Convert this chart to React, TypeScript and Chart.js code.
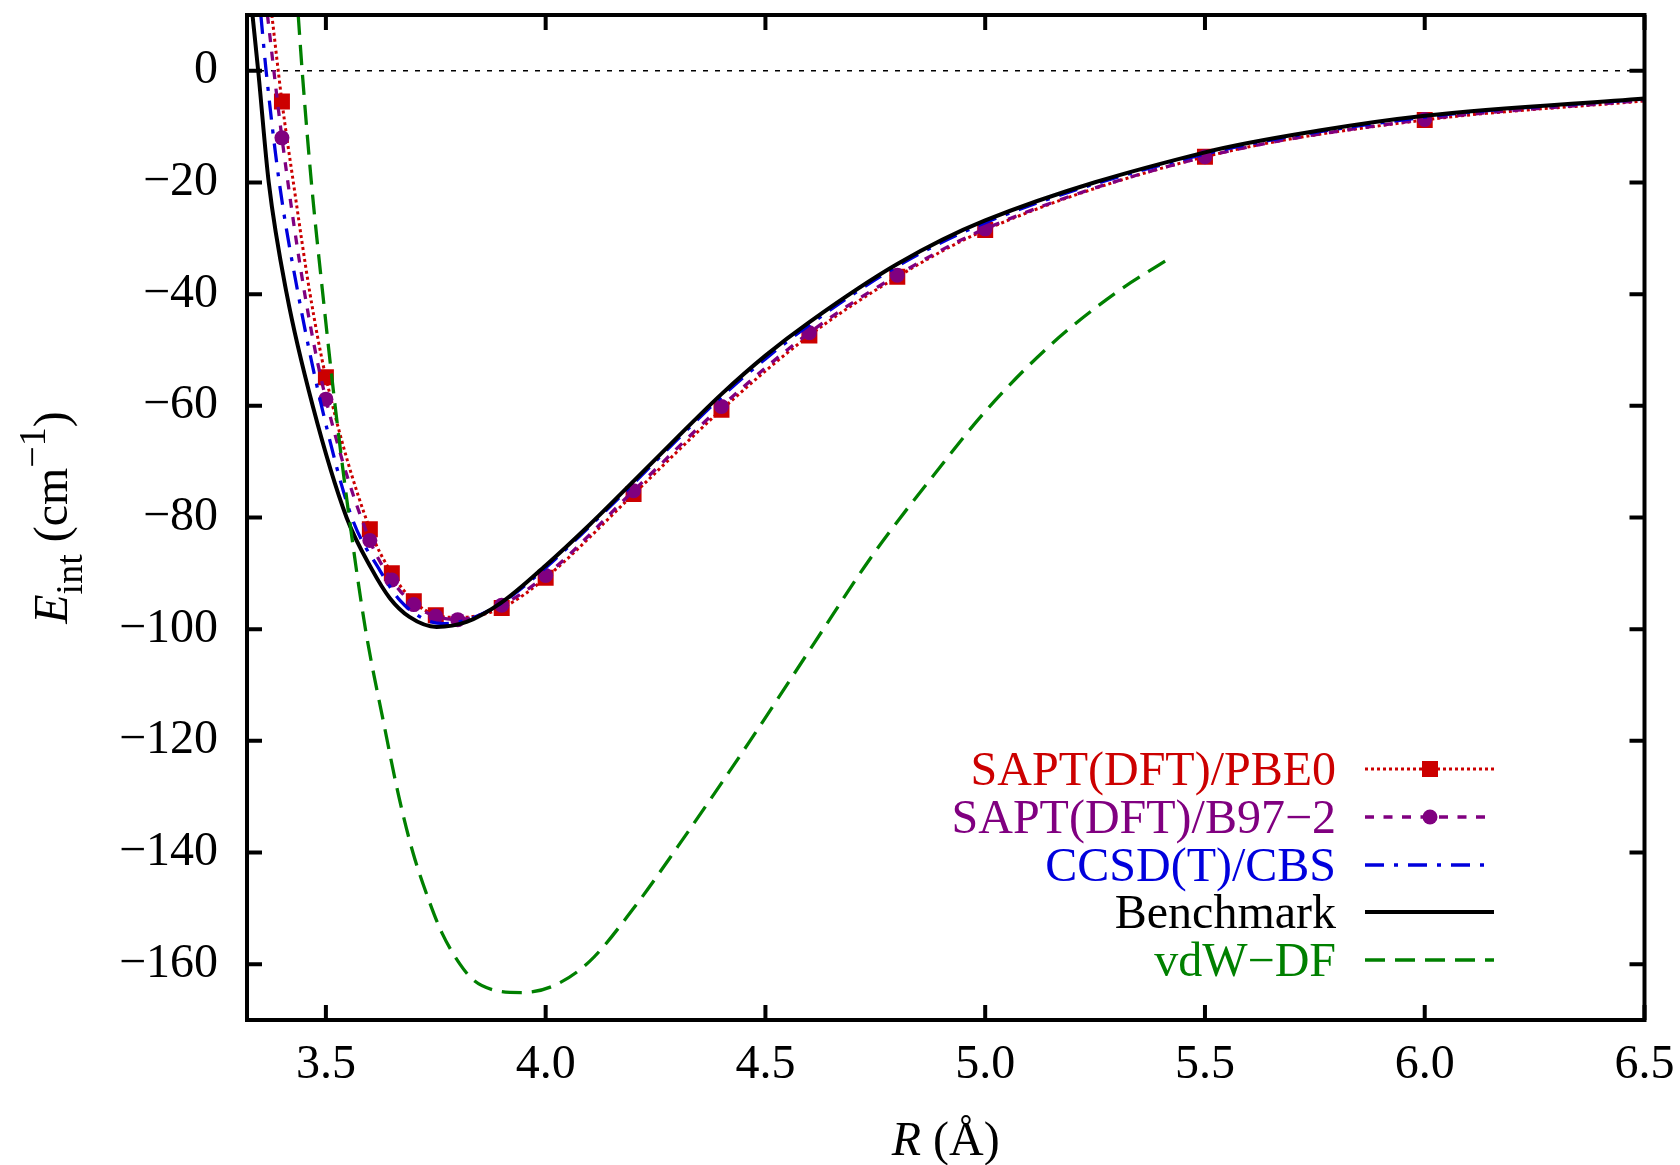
import React, { useEffect, useRef } from 'react';
import { Chart, registerables } from 'chart.js';

Chart.register(...registerables);

// ---------- data ----------
const xTicks = [3.5, 4.0, 4.5, 5.0, 5.5, 6.0, 6.5];
const yTicks = [0, -20, -40, -60, -80, -100, -120, -140, -160];
const xRange = [3.3205, 6.5];
const yRange = [-170, 10];

const seriesNames = ['SAPT(DFT)/PBE0', 'SAPT(DFT)/B97\u22122', 'CCSD(T)/CBS', 'Benchmark', 'vdW\u2212DF'];

// SAPT(DFT)/PBE0 computed points (red squares)
const pbe0R = [3.4, 3.5, 3.6, 3.65, 3.7, 3.75, 3.9, 4.0, 4.2, 4.4, 4.6, 4.8, 5.0, 5.5, 6.0];
const pbe0E = [-5.5, -54.9, -82.1, -90.0, -95.0, -97.5, -96.2, -90.8, -75.8, -60.7, -47.4, -36.9, -28.5, -15.4, -8.8];
// SAPT(DFT)/PBE0 fitted curve
const pbe0CurveR = [3.377, 3.4, 3.426, 3.464, 3.5, 3.6, 3.65, 3.7, 3.75, 3.8, 3.9, 4.0, 4.2, 4.4, 4.6, 4.8, 5.0, 5.5, 6.0, 6.5];
const pbe0CurveE = [10, -5.5, -20, -40, -54.9, -82.1, -90.0, -95.0, -97.5, -97.9, -96.2, -90.8, -75.8, -60.7, -47.4, -36.9, -28.5, -15.4, -8.8, -5.4];

// SAPT(DFT)/B97-2 computed points (purple circles)
const b97R = [3.4, 3.5, 3.6, 3.65, 3.7, 3.75, 3.8, 3.9, 4.0, 4.2, 4.4, 4.6, 4.8, 5.0, 5.5, 6.0];
const b97E = [-12.0, -58.8, -84.1, -91.2, -95.6, -97.7, -98.3, -95.7, -90.4, -75.2, -60.1, -46.9, -36.6, -28.3, -15.4, -8.7];
// SAPT(DFT)/B97-2 fitted curve
const b97CurveR = [3.367, 3.4, 3.452, 3.5, 3.6, 3.65, 3.7, 3.75, 3.8, 3.9, 4.0, 4.2, 4.4, 4.6, 4.8, 5.0, 5.5, 6.0, 6.5];
const b97CurveE = [10, -12.0, -40, -58.8, -84.1, -91.2, -95.6, -97.7, -98.3, -95.7, -90.4, -75.2, -60.1, -46.9, -36.6, -28.3, -15.4, -8.7, -5.3];

// CCSD(T)/CBS curve
const ccsdR = [3.352, 3.364, 3.394, 3.437, 3.49, 3.559, 3.623, 3.669, 3.729, 3.77, 3.83, 3.9, 4.0, 4.1, 4.2, 4.3, 4.4, 4.5, 4.6, 4.8, 5.0, 5.5, 6.0, 6.5];
const ccsdE = [10, 0, -20, -40, -60, -80, -89.5, -94.9, -98.4, -99.0, -98.1, -95.3, -89.0, -81.6, -73.9, -66.0, -58.4, -51.6, -45.5, -35.0, -27.2, -14.9, -8.3, -5.05];

// Benchmark curve
const benchR = [3.333, 3.346, 3.37, 3.411, 3.47, 3.547, 3.604, 3.646, 3.69, 3.752, 3.82, 3.9, 4.0, 4.1, 4.2, 4.3, 4.4, 4.5, 4.6, 4.8, 5.0, 5.5, 5.76, 6.0, 6.5];
const benchE = [10, 0, -20, -40, -60, -80, -89.2, -94.5, -97.8, -99.6, -98.7, -95.2, -88.6, -81.3, -73.5, -65.6, -57.9, -51.0, -45.0, -34.6, -26.8, -14.6, -10.7, -8.05, -4.95];

// vdW-DF curve
const vdwR = [3.437, 3.446, 3.467, 3.493, 3.521, 3.553, 3.59, 3.632, 3.666, 3.698, 3.734, 3.764, 3.805, 3.835, 3.88, 3.945, 4.02, 4.1, 4.2, 4.3, 4.465, 4.611, 4.746, 4.897, 5.0, 5.15, 5.3, 5.413];
const vdwE = [10, 0, -20, -40, -60, -80, -100, -117, -130, -140, -148.5, -154.4, -160, -162.8, -164.6, -165.1, -163.8, -159.5, -150, -139, -120, -102.5, -86.5, -71, -61, -49, -39.6, -33.9];

// ---------- styles ----------
const FONT = "'Liberation Serif', 'Times New Roman', serif";
const RED = '#cc0000';
const PURPLE = '#800080';
const BLUE = '#0000dd';
const BLACK = '#000000';
const GREEN = '#008000';

const zip = (xs: number[], ys: number[]) => xs.map((x, i) => ({ x, y: ys[i] }));

const legendStyles = [
  { color: RED, dash: [3, 3], width: 3, marker: 'rect' },
  { color: PURPLE, dash: [9, 9.5], width: 3.3, marker: 'circle' },
  { color: BLUE, dash: [19, 10, 4, 10], width: 3.3, marker: null },
  { color: BLACK, dash: [], width: 4, marker: null },
  { color: GREEN, dash: [20, 10], width: 3.3, marker: null },
];

const framePlugin = {
  id: 'gnuplotFrame',
  afterDraw(chart: any) {
    const { ctx, chartArea: a, scales } = chart;
    const xs = scales.x;
    const ys = scales.y;
    ctx.save();
    // border
    ctx.strokeStyle = '#000';
    ctx.lineWidth = 4;
    ctx.lineJoin = 'miter';
    ctx.lineCap = 'square';
    ctx.setLineDash([]);
    ctx.strokeRect(a.left, a.top, a.right - a.left, a.bottom - a.top);
    // ticks (inward, mirrored)
    ctx.lineCap = 'butt';
    const tl = 15;
    ctx.beginPath();
    for (const v of xTicks) {
      const p = xs.getPixelForValue(v);
      ctx.moveTo(p, a.bottom);
      ctx.lineTo(p, a.bottom - tl);
      ctx.moveTo(p, a.top);
      ctx.lineTo(p, a.top + tl);
    }
    for (const v of yTicks) {
      const p = ys.getPixelForValue(v);
      ctx.moveTo(a.left, p);
      ctx.lineTo(a.left + tl, p);
      ctx.moveTo(a.right, p);
      ctx.lineTo(a.right - tl, p);
    }
    ctx.stroke();

    // x title: R (Å)
    ctx.fillStyle = '#000';
    ctx.textBaseline = 'alphabetic';
    ctx.textAlign = 'left';
    const fItalic = `italic 48px ${FONT}`;
    const fNorm = `48px ${FONT}`;
    const fSmall = `38px ${FONT}`;
    ctx.font = fItalic;
    const wR = ctx.measureText('R').width;
    ctx.font = fNorm;
    const wRest = ctx.measureText(' (\u00C5)').width;
    const cx = (a.left + a.right) / 2;
    const x0 = cx - (wR + wRest) / 2;
    ctx.font = fItalic;
    ctx.fillText('R', x0, 1155);
    ctx.font = fNorm;
    ctx.fillText(' (\u00C5)', x0 + wR, 1155);

    // y title: E_int (cm^-1)
    const parts = [
      { t: 'E', f: fItalic, dy: 0 },
      { t: 'int', f: fSmall, dy: 15 },
      { t: ' (cm', f: fNorm, dy: 0 },
      { t: '\u22121', f: fSmall, dy: -22 },
      { t: ')', f: fNorm, dy: 0 },
    ];
    let total = 0;
    const widths = parts.map((p) => {
      ctx.font = p.f;
      const w = ctx.measureText(p.t).width;
      total += w;
      return w;
    });
    ctx.save();
    ctx.translate(67, (a.top + a.bottom) / 2);
    ctx.rotate(-Math.PI / 2);
    let px = -total / 2;
    parts.forEach((p, i) => {
      ctx.font = p.f;
      ctx.fillText(p.t, px, p.dy);
      px += widths[i];
    });
    ctx.restore();

    // legend
    const rowsY = [769, 817, 865, 912, 960];
    const textRight = 1336;
    const lx0 = 1365;
    const lx1 = 1494;
    const mx = 1430;
    ctx.font = fNorm;
    ctx.textAlign = 'right';
    seriesNames.forEach((name, i) => {
      const st = legendStyles[i];
      const y = rowsY[i];
      ctx.fillStyle = st.color;
      ctx.fillText(name, textRight, y + 16);
      ctx.strokeStyle = st.color;
      ctx.lineWidth = st.width;
      ctx.setLineDash(st.dash);
      ctx.beginPath();
      ctx.moveTo(lx0, y);
      ctx.lineTo(lx1, y);
      ctx.stroke();
      ctx.setLineDash([]);
      if (st.marker === 'rect') {
        ctx.fillRect(mx - 8, y - 8, 16, 16);
      } else if (st.marker === 'circle') {
        ctx.beginPath();
        ctx.arc(mx, y, 7.5, 0, Math.PI * 2);
        ctx.fill();
      }
    });
    ctx.restore();
  },
};

function buildConfig(): any {
  const curve = (data: any, color: string, dash: number[], width: number, order: number) => ({
    data,
    showLine: true,
    borderColor: color,
    backgroundColor: color,
    borderWidth: width,
    borderDash: dash,
    pointRadius: 0,
    pointHoverRadius: 0,
    cubicInterpolationMode: 'monotone',
    fill: false,
    order,
  });
  const markers = (data: any, color: string, style: string, radius: number, order: number) => ({
    data,
    showLine: false,
    pointStyle: style,
    pointRadius: radius,
    pointHoverRadius: radius,
    pointBackgroundColor: color,
    pointBorderColor: color,
    pointBorderWidth: 0,
    borderColor: color,
    backgroundColor: color,
    order,
  });
  return {
    type: 'scatter',
    data: {
      datasets: [
        curve(zip([xRange[0], xRange[1]], [0, 0]), '#000', [5, 7], 1.5, 20),
        curve(zip(pbe0CurveR, pbe0CurveE), RED, [3, 3], 3, 12),
        markers(zip(pbe0R, pbe0E), RED, 'rect', 11.3, 11),
        curve(zip(b97CurveR, b97CurveE), PURPLE, [9, 9.5], 3.3, 10),
        markers(zip(b97R, b97E), PURPLE, 'circle', 7.5, 9),
        curve(zip(ccsdR, ccsdE), BLUE, [19, 10, 4, 10], 3.3, 8),
        curve(zip(benchR, benchE), BLACK, [], 4, 7),
        curve(zip(vdwR, vdwE), GREEN, [20, 10], 3.3, 6),
      ],
    },
    options: {
      animation: false,
      responsive: false,
      devicePixelRatio: 1,
      events: [],
      layout: { padding: { left: 0, right: 35.5, top: 15, bottom: 0 } },
      plugins: {
        legend: { display: false },
        tooltip: { enabled: false },
        title: { display: false },
      },
      scales: {
        x: {
          type: 'linear',
          min: xRange[0],
          max: xRange[1],
          grid: { display: false, drawTicks: false },
          border: { display: false },
          afterBuildTicks: (s: any) => {
            s.ticks = xTicks.map((v) => ({ value: v }));
          },
          afterFit: (s: any) => {
            s.height = 145;
            s.paddingLeft = 0;
            s.paddingRight = 0;
          },
          ticks: {
            font: { family: FONT, size: 48 },
            color: '#000',
            padding: 17,
            maxRotation: 0,
            autoSkip: false,
            callback: (v: any) => Number(v).toFixed(1),
          },
        },
        y: {
          type: 'linear',
          min: yRange[0],
          max: yRange[1],
          grid: { display: false, drawTicks: false },
          border: { display: false },
          afterBuildTicks: (s: any) => {
            s.ticks = yTicks.map((v) => ({ value: v }));
          },
          afterFit: (s: any) => {
            s.width = 247;
            s.paddingTop = 0;
            s.paddingBottom = 0;
          },
          ticks: {
            font: { family: FONT, size: 48 },
            color: '#000',
            padding: 29,
            autoSkip: false,
            callback: (v: any) => (Number(v) < 0 ? '\u2212' + Math.abs(Number(v)) : String(v)),
          },
        },
      },
    },
    plugins: [framePlugin],
  };
}

export default function App() {
  const ref = useRef<HTMLCanvasElement>(null);
  useEffect(() => {
    let chart: Chart | null = null;
    let cancelled = false;
    const make = () => {
      if (cancelled || !ref.current) return;
      chart = new Chart(ref.current, buildConfig());
    };
    const fontsApi: any = (document as any).fonts;
    if (fontsApi && fontsApi.load) {
      Promise.all([
        fontsApi.load(`48px 'Liberation Serif'`),
        fontsApi.load(`italic 48px 'Liberation Serif'`),
      ])
        .catch(() => null)
        .then(make);
    } else {
      make();
    }
    return () => {
      cancelled = true;
      if (chart) chart.destroy();
    };
  }, []);
  return (
    <div style={{ position: 'absolute', left: 0, top: 0, width: 1680, height: 1165, background: '#fff' }}>
      <canvas ref={ref} width={1680} height={1165} style={{ display: 'block', width: 1680, height: 1165 }} />
    </div>
  );
}
